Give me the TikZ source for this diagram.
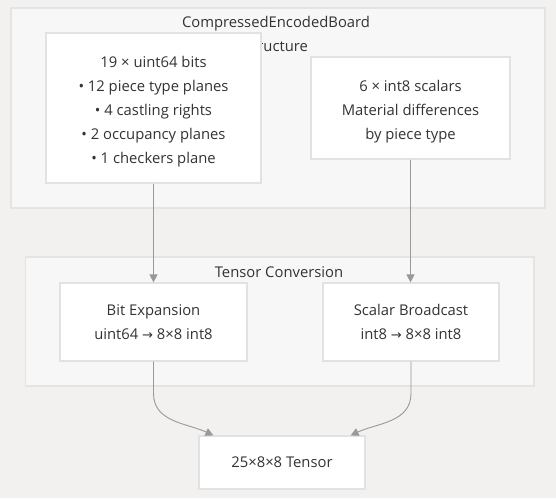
\documentclass[tikz,border=0pt]{standalone}
\usepackage{fontspec}
\setmainfont{Open Sans}
\newfontfamily\symfont{DejaVu Sans}
\usetikzlibrary{arrows.meta,positioning}
\definecolor{pagebg}{RGB}{242,241,240}
\definecolor{clusterfill}{RGB}{247,247,247}
\definecolor{clusterline}{RGB}{228,228,228}
\definecolor{boxline}{RGB}{226,226,226}
\definecolor{inktext}{RGB}{51,51,51}
\definecolor{linkgray}{RGB}{153,153,153}
\newcommand{\toarrow}{{\symfont\fontsize{13}{24}\selectfont →}}

\begin{document}
\begin{tikzpicture}[x=1pt,y=-1pt,
    every node/.style={text=inktext, font=\fontsize{14.8}{24}\selectfont, align=center},
    cluster/.style={draw=clusterline, fill=clusterfill, line width=1.2pt},
    box/.style={draw=boxline, fill=white, line width=1.2pt, inner sep=0pt},
    link/.style={draw=linkgray, line width=0.9pt, -{Triangle[length=8pt,width=8pt]}}]

  \fill[pagebg] (0,0) rectangle (556,498);
  \useasboundingbox (0,0) rectangle (556,498);

  % clusters
  \draw[cluster] (11,8) rectangle (545,208);
  \node (boardlabel) at (276,34) {CompressedEncodedBoard\\Structure};
  \draw[cluster] (25.5,257) rectangle (534,386);
  \node (convlabel) at (279,272) {Tensor Conversion};

  % nodes
  \node[box, minimum width=215pt, minimum height=150pt] (bits) at (153.5,108)
    {\rule{0pt}{18pt}19 × uint64 bits\\• 12 piece type planes\\• 4 castling rights\\• 2 occupancy planes\\• 1 checkers plane};
  \node[box, minimum width=199pt, minimum height=102pt] (scalars) at (410.5,108)
    {\rule{0pt}{18pt}6 × int8 scalars\\Material differences\\by piece type};
  \node[box, minimum width=187pt, minimum height=78pt] (bitexp) at (153.5,322)
    {Bit Expansion\\uint64 \toarrow{} 8×8 int8};
  \node[box, minimum width=176pt, minimum height=78pt] (broadcast) at (411,322)
    {Scalar Broadcast\\int8 \toarrow{} 8×8 int8};
  \node[box, minimum width=166pt, minimum height=53pt] (tensor) at (282,462.5)
    {25×8×8 Tensor};

  % links
  \draw[link] (bits.south) -- (bitexp.north);
  \draw[link] (scalars.south) -- (broadcast.north -| scalars.south);
  \draw[link] (bitexp.south) -- ++(0,32) to[out=-90,in=155] ([xshift=15pt]tensor.north west);
  \draw[link] (broadcast.south) -- ++(0,32) to[out=-90,in=25] ([xshift=-15pt]tensor.north east);

\end{tikzpicture}
\end{document}
